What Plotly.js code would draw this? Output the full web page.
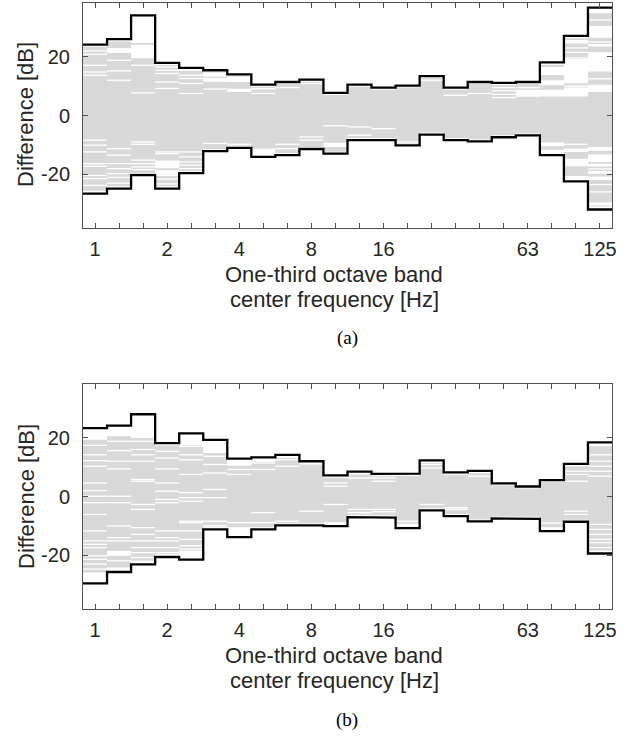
<!DOCTYPE html>
<html>
<head>
<meta charset="utf-8">
<script src="https://cdn.plot.ly/plotly-3.0.1.min.js"></script>
<style>html,body{margin:0;padding:0;background:#fff;}#chart{width:634px;height:742px;}</style>
</head>
<body>
<div id="chart"></div>
<script>
// One-third octave band nominal centre frequencies (Hz)
const bandLabels = ['1','1.25','1.6','2','2.5','3.15','4','5','6.3','8','10','12.5','16','20','25','31.5','40','50','63','80','100','125'];
const labelledBands = ['1','2','4','8','16','63','125'];

// Panel (a): envelope (max / min) of the differences [dB]
const upperA = [24.1, 26.0, 34.1, 17.9, 16.2, 15.4, 14.0, 10.5, 11.4, 12.2, 7.7, 10.5, 9.5, 10.2, 13.4, 9.5, 11.4, 11.1, 11.4, 18.1, 27.1, 36.7];
const lowerA = [-26.6, -24.9, -20.3, -24.9, -19.6, -12.1, -11.0, -14.1, -13.5, -11.4, -13.0, -8.4, -8.4, -10.2, -6.5, -8.4, -8.8, -7.4, -6.8, -13.5, -22.4, -32.0];
// Panel (a): extent of the bundle of grey individual curves
const grayHiA = [23.4, 25.2, 24.7, 17.2, 15.5, 14.8, 13.3, 9.8, 10.7, 11.5, 7.0, 9.8, 8.8, 9.5, 12.7, 8.8, 10.7, 10.4, 10.7, 17.3, 26.3, 34.8];
const grayLoA = [-25.6, -24.1, -19.8, -24.1, -18.9, -11.4, -10.3, -13.4, -12.8, -10.7, -12.3, -7.7, -7.7, -9.5, -5.8, -7.7, -8.1, -6.7, -6.1, -12.8, -21.6, -31.0];
// Panel (a): levels with no curve (thin white gaps) per band
const gapLinesA = [
  [22.0, 20.8, 17.1, 14.8, 13.7, -8.4, -10.1, -12.4, -16.4, -17.3, -20.4, -21.5, -23.8],
  [18.8, 15.2, 12.0, -11.3, -13.5, -16.4, -18.1, -19.8, -21.1, -23.0],
  [17.1, 7.7, -9.0, -9.8, -15.2, -16.4, -17.5, -18.4],
  [16.5, 15.4, 14.3, 11.4, 9.2, -12.4, -13.0, -21.6, -23.3],
  [15.4, 13.7, 12.6, 10.9, 7.5, -12.4, -14.1, -15.8, -16.9, -18.1],
  [9.0, -9.5],
  [-9.8],
  [9.1, 7.5],
  [9.5, -9.8, -11.3],
  [10.9, -7.3, -8.4],
  [-3.5],
  [-3.9, -6.7],
  [-4.5],
  [-9.0],
  [12.0],
  [6.9],
  [7.5],
  [9.5, 8.4, 7.2, 6.1],
  [9.5],
  [14.8],
  [23.0, 21.5, 19.6, 10.0, -9.8],
  [32.5, 25.0, 12.5, -14.8, -18.2, -23.5, -26.0]
];
// Panel (a): wider ranges with no curve per band [low, high]
const gapRangesA = [
  [],
  [[21.3, 23.0]],
  [[19.5, 24.1]],
  [[-18.0, -15.3], [-20.6, -18.6]],
  [],
  [[13.2, 14.6], [11.5, 12.8]],
  [[11.4, 13.1], [8.0, 9.1]],
  [[-13.5, -11.3]],
  [], [],
  [[-10.7, -9.3]],
  [], [], [], [], [], [], [],
  [[6.4, 8.8]],
  [[13.8, 16.5], [10.3, 12.0], [6.5, 8.8], [-10.5, -9.2], [-12.9, -11.7]],
  [[24.5, 25.7], [11.0, 19.3], [6.5, 9.5], [-12.4, -11.2], [-17.3, -14.7], [-21.8, -20.6]],
  [[26.5, 30.5], [23.5, 24.3], [15.0, 21.5], [8.0, 10.5], [-12.0, -10.7], [-15.8, -13.3], [-17.4, -16.4], [-19.8, -18.9], [-22.0, -20.8], [-30.6, -29.6]]
];

// Panel (b)
const upperB = [23.3, 24.1, 28.0, 18.2, 21.5, 19.3, 12.9, 13.3, 14.2, 12.0, 7.2, 8.5, 7.7, 7.8, 12.3, 8.2, 8.7, 4.5, 3.4, 5.6, 11.1, 18.4];
const lowerB = [-29.6, -25.7, -23.1, -20.6, -21.5, -11.2, -13.8, -11.2, -9.8, -9.8, -10.1, -7.0, -7.2, -10.8, -4.7, -6.7, -8.5, -7.5, -7.6, -11.8, -8.6, -19.4];
const grayHiB = [19.3, 20.5, 19.9, 17.4, 17.5, 14.8, 10.5, 11.8, 13.1, 10.9, 6.4, 7.5, 6.9, 7.0, 11.4, 7.4, 7.9, 3.8, 2.7, 4.9, 10.3, 17.1];
const grayLoB = [-25.9, -24.2, -21.9, -19.7, -18.5, -10.5, -10.4, -10.5, -9.2, -9.1, -8.8, -6.3, -6.5, -9.5, -4.0, -6.0, -7.8, -6.8, -6.9, -10.5, -7.9, -18.4];
const gapLinesB = [
  [17.4, 14.2, 12.2, 10.3, 4.6, 2.0, 0.1, -2.1, -6.1, -11.7, -15.1, -16.3, -17.4, -20.2, -21.4, -23.0, -24.7],
  [18.8, 15.6, 12.0, 9.4, 0.1, -2.1, -10.0, -14.0, -15.1, -21.9],
  [18.8, 16.0, 14.2, 12.0, 5.8, 5.2, -2.7, -4.4, -10.6, -12.9, -15.1, -17.4, -19.1, -20.8],
  [15.4, 13.1, 9.4, 4.6, 1.8, -1.0, -2.1, -11.7, -14.0, -15.1, -17.4, -19.1],
  [17.1, 14.2, 12.5, 7.5, 1.3, -0.4, -1.6, -8.4, -8.9, -11.7, -14.6, -16.8, -17.9],
  [13.7, 10.9, 8.0, 2.4, -0.4, -8.4, -10.0],
  [9.2, 7.5, -8.9],
  [11.4, 9.2, -5.5, -8.9],
  [12.5, 10.3, -8.4],
  [-5.0],
  [4.6, 3.5, -2.7],
  [6.3, -4.4, -5.5],
  [6.3, 5.2, -4.4, -5.2],
  [-8.4, -9.5],
  [10.9, 9.7, -2.7],
  [-3.8, -4.4],
  [6.9],
  [],
  [],
  [-9.0],
  [8.6, 7.5, 5.2, -5.0, -6.1],
  [14.2, 12.0, 10.3, 8.6, 6.9, -9.5, -11.2, -12.9, -14.6, -15.7, -17.4]
];
const gapRangesB = [
  [], [[-20.2, -18.5]], [], [], [], [], [], [], [], [], [], [], [], [], [], [], [], [], [], [], [], []
];

// ---------- geometry helpers (band centres on a base-2 third-octave grid) ----------
const nB = bandLabels.length;
const centers = bandLabels.map((_, k) => Math.pow(2, k / 3));
const edgeLo = centers.map(c => c * Math.pow(2, -1 / 6));
const edgeHi = centers.map(c => c * Math.pow(2, 1 / 6));
const GRAY = '#d9d9d9';

function stepPath(vals) {
  const xs = [], ys = [];
  vals.forEach((v, k) => { xs.push(edgeLo[k], edgeHi[k]); ys.push(v, v); });
  return {xs, ys};
}

function panelTraces(upper, lower, gHi, gLo, gapLines, gapRanges, xa, ya) {
  const traces = [];
  const top = stepPath(gHi), bot = stepPath(gLo);
  traces.push({
    x: top.xs.concat(bot.xs.slice().reverse()),
    y: top.ys.concat(bot.ys.slice().reverse()),
    type: 'scatter', mode: 'lines', fill: 'toself', fillcolor: GRAY,
    line: {width: 0, color: GRAY}, xaxis: xa, yaxis: ya, hoverinfo: 'skip', showlegend: false
  });
  const rx = [], ry = [];
  gapRanges.forEach((list, k) => list.forEach(r => {
    rx.push(edgeLo[k], edgeHi[k], edgeHi[k], edgeLo[k], edgeLo[k], null);
    ry.push(r[0], r[0], r[1], r[1], r[0], null);
  }));
  traces.push({
    x: rx, y: ry, type: 'scatter', mode: 'lines', fill: 'toself', fillcolor: '#ffffff',
    line: {width: 0, color: '#ffffff'}, xaxis: xa, yaxis: ya, hoverinfo: 'skip', showlegend: false
  });
  const lx = [], ly = [];
  gapLines.forEach((list, k) => list.forEach(v => {
    lx.push(edgeLo[k], edgeHi[k], null); ly.push(v, v, null);
  }));
  traces.push({
    x: lx, y: ly, type: 'scatter', mode: 'lines',
    line: {width: 1.3, color: '#ffffff'}, xaxis: xa, yaxis: ya, hoverinfo: 'skip', showlegend: false
  });
  [upper, lower].forEach(vals => {
    const p = stepPath(vals);
    traces.push({
      x: p.xs, y: p.ys, type: 'scatter', mode: 'lines',
      line: {width: 2.3, color: '#000000'}, xaxis: xa, yaxis: ya, showlegend: false
    });
  });
  return traces;
}

const data = panelTraces(upperA, lowerA, grayHiA, grayLoA, gapLinesA, gapRangesA, 'x', 'y')
  .concat(panelTraces(upperB, lowerB, grayHiB, grayLoB, gapLinesB, gapRangesB, 'x2', 'y2'));

const W = 634, H = 742;
const px = v => v / W, py = v => 1 - v / H;
const tickText = bandLabels.map(l => labelledBands.includes(l) ? l : '');
const FONT = 'Liberation Sans, Arial, Helvetica, sans-serif';
const TXT = '#262626';
const xRange = [Math.log10(edgeLo[0]), Math.log10(edgeHi[nB - 1])];

function xAxis(anchor) {
  return {
    type: 'log', range: xRange, domain: [px(83), px(612)], anchor: anchor,
    tickmode: 'array', tickvals: centers, ticktext: tickText,
    ticks: 'inside', ticklen: 5, tickcolor: '#505050', tickwidth: 1,
    showline: true, linecolor: '#505050', linewidth: 1, mirror: 'ticks',
    showgrid: false, zeroline: false, ticklabelstandoff: 3,
    tickfont: {family: FONT, size: 20, color: TXT}
  };
}
function yAxis(anchor, top, bottom) {
  return {
    range: [-38.3, 38.3], domain: [py(bottom), py(top)], anchor: anchor,
    tickmode: 'array', tickvals: [-20, 0, 20], ticktext: ['-20', '0', '20'],
    ticks: 'inside', ticklen: 5, tickcolor: '#505050', tickwidth: 1,
    showline: true, linecolor: '#505050', linewidth: 1, mirror: 'ticks',
    showgrid: false, zeroline: false, ticklabelstandoff: 8,
    tickfont: {family: FONT, size: 20, color: TXT}
  };
}

function ann(text, x, y, size, family, angle) {
  return {text: text, x: px(x), y: py(y), xref: 'paper', yref: 'paper',
    xanchor: 'center', yanchor: 'middle', showarrow: false, textangle: angle || 0,
    font: {family: family || FONT, size: size, color: family ? '#000' : TXT}};
}

const layout = {
  width: W, height: H, margin: {l: 0, r: 0, t: 0, b: 0},
  paper_bgcolor: '#ffffff', plot_bgcolor: '#ffffff', showlegend: false,
  xaxis: xAxis('y'), yaxis: yAxis('x', 3, 228),
  xaxis2: xAxis('y2'), yaxis2: yAxis('x2', 384, 609),
  annotations: [
    ann('Difference [dB]', 26, 115, 22, null, -90),
    ann('One-third octave band', 334, 274, 22),
    ann('center frequency [Hz]', 334, 299, 22),
    ann('(a)', 347, 338, 19, 'Liberation Serif, Times New Roman, serif'),
    ann('Difference [dB]', 26, 497, 22, null, -90),
    ann('One-third octave band', 334, 655, 22),
    ann('center frequency [Hz]', 334, 680, 22),
    ann('(b)', 347, 720, 19, 'Liberation Serif, Times New Roman, serif')
  ]
};

Plotly.newPlot('chart', data, layout, {staticPlot: true, displayModeBar: false});
</script>
</body>
</html>
